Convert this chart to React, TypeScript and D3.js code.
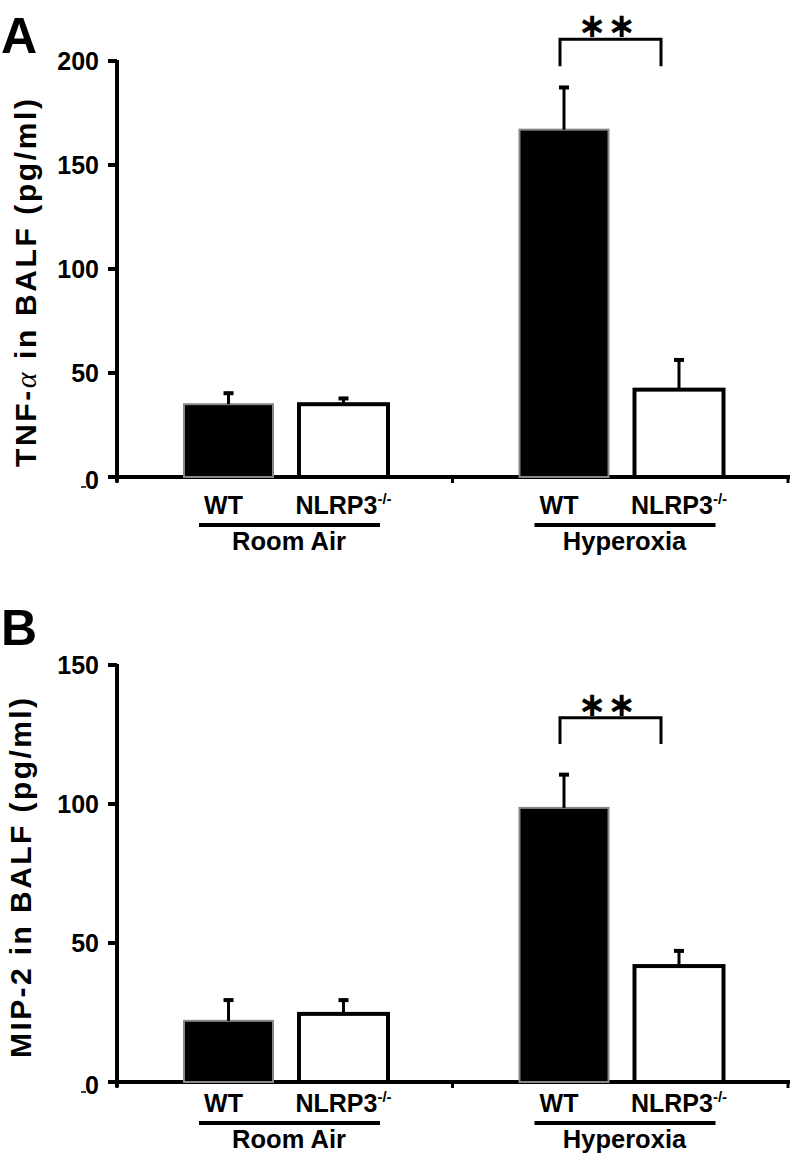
import React from "react";
import * as d3 from "d3";

const groups = ["Room Air", "Hyperoxia"];
const genotypes = ["WT", "NLRP3"];
const tnfMean = [35, 35, 167, 42];
const tnfErr = [6, 3.5, 21, 15];
const mipMean = [22, 24.5, 98.6, 41.7];
const mipErr = [8, 5.5, 12.5, 6];
const tnfTicks = [0, 50, 100, 150, 200];
const mipTicks = [0, 50, 100, 150];

const FONT = "'Liberation Sans', Arial, Helvetica, sans-serif";

type PanelProps = {
  letter: string;
  letterY: number;
  yTop: number;
  yZero: number;
  yMax: number;
  ticks: number[];
  means: number[];
  errs: number[];
  bracket: [number, number];
  labelPre: string;
  labelAlpha: boolean;
  labelRest: string;
  labelX: number;
  labelCenter: number;
  labelLen: number;
  wtOff: number;
  lineOff: number;
  grpOff: number;
};

const X0 = 117;
const X1 = 788;

function Panel(p: PanelProps) {
  const y = d3.scaleLinear().domain([0, p.yMax]).range([p.yZero, p.yTop]);
  const xg = d3.scaleBand<string>().domain(groups).range([X0, X1]).padding(0);
  const xi = d3
    .scaleBand<string>()
    .domain(genotypes)
    .range([67, 271])
    .paddingInner(0.226)
    .paddingOuter(0);
  const bw = xi.bandwidth();
  const bars: { g: string; t: string; v: number; e: number; x: number; cx: number }[] = [];
  groups.forEach((g, gi) =>
    genotypes.forEach((t, ti) => {
      const i = gi * 2 + ti;
      const x = (xg(g) as number) + (xi(t) as number);
      bars.push({ g, t, v: p.means[i], e: p.errs[i], x, cx: x + bw / 2 });
    })
  );
  const hyWT = bars[2];
  const hyKO = bars[3];
  const bx0 = hyWT.cx - 4;
  const bx1 = hyKO.cx - 18;
  const byTop = y(p.bracket[0]);
  const byBot = y(p.bracket[1]);

  return (
    <g>
      <text x={1} y={p.letterY} fontFamily={FONT} fontWeight="bold" fontSize={50}>
        {p.letter}
      </text>
      {/* y label */}
      <text
        transform={`translate(${p.labelX},${p.labelCenter}) rotate(-90)`}
        textAnchor="middle"
        fontFamily={FONT}
        fontWeight="bold"
        fontSize={30}
        textLength={p.labelLen}
      >
        {p.labelPre}
        {p.labelAlpha ? (
          <tspan fontFamily="'Liberation Serif', 'DejaVu Serif', serif" fontWeight="normal" fontStyle="italic">
            α
          </tspan>
        ) : null}
        {p.labelRest}
      </text>
      {/* axes */}
      <line x1={X0} x2={X0} y1={p.yTop - 1} y2={p.yZero + 5} stroke="#000" strokeWidth={4} />
      <line x1={X0 - 9} x2={X1 + 2} y1={p.yZero} y2={p.yZero} stroke="#000" strokeWidth={4} />
      {xg.domain().map((g) => (
        <line key={"xt" + g} x1={xg(g) as number} x2={xg(g) as number} y1={p.yZero} y2={p.yZero + 6} stroke="#000" strokeWidth={3} />
      ))}
      <line x1={X1} x2={X1} y1={p.yZero} y2={p.yZero + 6} stroke="#000" strokeWidth={3} />
      {p.ticks.map((t) => (
        <g key={"yt" + t}>
          <line x1={X0 - 9} x2={X0} y1={y(t)} y2={y(t)} stroke="#000" strokeWidth={4} />
          <text
            x={99}
            y={y(t) + (t === 0 ? 3 : 0)}
            textAnchor="end"
            dominantBaseline="central"
            fontFamily={FONT}
            fontWeight="bold"
            fontSize={25}
          >
            {t}
          </text>
          {t === 0 ? (
            <line x1={81} x2={86} y1={y(t) + 10} y2={y(t) + 10} stroke="#000" strokeWidth={1.5} />
          ) : null}
        </g>
      ))}
      {/* bars */}
      {bars.map((b) => (
        <rect
          key={"b" + b.g + b.t}
          x={b.x}
          y={y(b.v)}
          width={bw}
          height={p.yZero - y(b.v)}
          fill={b.t === "WT" ? "#000" : "#fff"}
          stroke={b.t === "WT" ? "#888" : "#000"}
          strokeWidth={b.t === "WT" ? 2 : 4}
        />
      ))}
      {/* error bars */}
      {bars.map((b) => (
        <g key={"e" + b.g + b.t}>
          <line x1={b.cx} x2={b.cx} y1={y(b.v)} y2={y(b.v + b.e)} stroke="#000" strokeWidth={3} />
          <line x1={b.cx - 5} x2={b.cx + 5} y1={y(b.v + b.e) + 1.5} y2={y(b.v + b.e) + 1.5} stroke="#000" strokeWidth={4} />
        </g>
      ))}
      {/* significance */}
      <path
        d={`M${bx0},${byBot}V${byTop}H${bx1}V${byBot}`}
        fill="none"
        stroke="#000"
        strokeWidth={3}
      />
      <text
        x={(bx0 + bx1) / 2 - 3}
        y={byTop - 2}
        textAnchor="middle"
        fontFamily="'DejaVu Sans', sans-serif"
        fontWeight="bold"
        fontSize={34}
        letterSpacing={1}
      >
        ∗∗
      </text>
      {/* category labels */}
      {bars.map((b) => (
        <text
          key={"l" + b.g + b.t}
          x={b.t === "WT" ? b.cx - 5 : b.cx}
          y={p.yZero + p.wtOff}
          textAnchor="middle"
          fontFamily={FONT}
          fontWeight="bold"
          fontSize={25}
        >
          {b.t}
          {b.t === "NLRP3" ? (
            <tspan fontSize={15} dy={-10}>
              -/-
            </tspan>
          ) : null}
        </text>
      ))}
      {groups.map((g) => {
        const gx = xg(g) as number;
        return (
          <g key={"g" + g}>
            <line x1={gx + 82} x2={gx + 263} y1={p.yZero + p.lineOff} y2={p.yZero + p.lineOff} stroke="#000" strokeWidth={4} />
            <text
              x={gx + 172}
              y={p.yZero + p.grpOff}
              textAnchor="middle"
              fontFamily={FONT}
              fontWeight="bold"
              fontSize={25.5}
            >
              {g}
            </text>
          </g>
        );
      })}
    </g>
  );
}

export default function App() {
  return (
    <svg
      width={798}
      height={1161}
      viewBox="0 0 798 1161"
      style={{ position: "absolute", left: 0, top: 0, background: "#fff" }}
    >
      <rect width={798} height={1161} fill="#fff" />
      <Panel
        letter="A"
        letterY={53}
        yTop={61}
        yZero={477}
        yMax={200}
        ticks={tnfTicks}
        means={tnfMean}
        errs={tnfErr}
        bracket={[210.5, 197.5]}
        labelPre="TNF-"
        labelAlpha={true}
        labelRest=" in BALF (pg/ml)"
        labelX={36}
        labelCenter={283}
        labelLen={368}
        wtOff={37}
        lineOff={48}
        grpOff={73}
      />
      <Panel
        letter="B"
        letterY={645}
        yTop={665}
        yZero={1082}
        yMax={150}
        ticks={mipTicks}
        means={mipMean}
        errs={mipErr}
        bracket={[131, 121.6]}
        labelPre="MIP-2 in BALF (pg/ml)"
        labelAlpha={false}
        labelRest=""
        labelX={31}
        labelCenter={878}
        labelLen={360}
        wtOff={30}
        lineOff={41}
        grpOff={66}
      />
    </svg>
  );
}
